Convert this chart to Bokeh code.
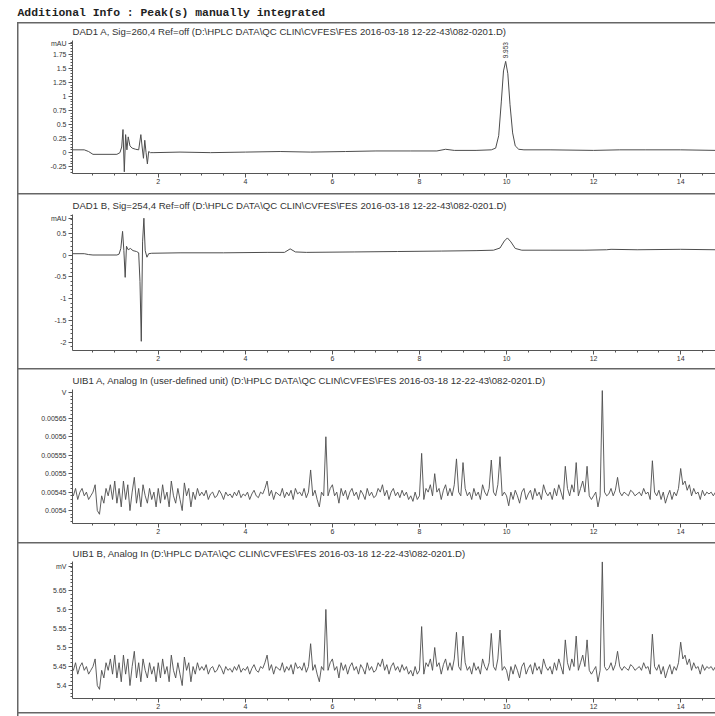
from bokeh.plotting import figure
from bokeh.layouts import column
from bokeh.models import FixedTicker, CustomJSTickFormatter, Label, Title, Range1d
from bokeh.embed import file_html
from bokeh.resources import INLINE

# ---------------- data ----------------
header_text = "Additional Info : Peak(s) manually integrated"
panel_titles = [
    "DAD1 A, Sig=260,4 Ref=off (D:\\HPLC DATA\\QC CLIN\\CVFES\\FES 2016-03-18 12-22-43\\082-0201.D)",
    "DAD1 B, Sig=254,4 Ref=off (D:\\HPLC DATA\\QC CLIN\\CVFES\\FES 2016-03-18 12-22-43\\082-0201.D)",
    "UIB1 A, Analog In (user-defined unit) (D:\\HPLC DATA\\QC CLIN\\CVFES\\FES 2016-03-18 12-22-43\\082-0201.D)",
    "UIB1 B, Analog In (D:\\HPLC DATA\\QC CLIN\\CVFES\\FES 2016-03-18 12-22-43\\082-0201.D)",
]
panel_units = ["mAU", "mAU", "V", "mV"]

x_ticks = [2, 4, 6, 8, 10, 12, 14]
x_minor = [0.5 * k for k in range(0, 30)]

dad_a_time = [0.0, 0.30, 0.40, 0.50, 1.05, 1.12, 1.16, 1.19, 1.22, 1.25,
              1.28, 1.31, 1.35, 1.40, 1.48, 1.55, 1.60, 1.63, 1.66, 1.69,
              1.72, 1.75, 1.78, 1.82, 1.90, 2.5, 3.2, 4.0, 4.8, 5.5,
              6.3, 7.0, 7.8, 8.4, 8.6, 8.8, 9.3, 9.65, 9.75, 9.82,
              9.88, 9.93, 9.98, 10.03, 10.08, 10.14, 10.20, 10.28, 10.40, 11.0,
              12.0, 12.6, 13.2, 14.0, 14.8]
dad_a_mau = [0.05, 0.05, 0.02, -0.03, -0.03, 0.0, 0.1, 0.41, -0.34, 0.32,
             0.05, 0.28, 0.12, 0.08, 0.06, 0.05, 0.32, 0.1, -0.1, 0.22,
             0.0, -0.2, 0.02, 0.0, 0.0, 0.01, 0.0, 0.01, 0.02, 0.01,
             0.02, 0.03, 0.03, 0.03, 0.06, 0.04, 0.04, 0.05, 0.08, 0.3,
             0.9, 1.45, 1.62, 1.4, 0.85, 0.35, 0.12, 0.06, 0.05, 0.05,
             0.04, 0.05, 0.05, 0.05, 0.04]
peak_label = "9.953"
peak_time = 9.98
peak_height = 1.62

dad_b_time = [0.0, 0.30, 0.40, 0.50, 1.05, 1.10, 1.14, 1.18, 1.21, 1.24,
              1.27, 1.31, 1.36, 1.42, 1.50, 1.55, 1.58, 1.61, 1.64, 1.67,
              1.70, 1.74, 1.78, 1.85, 2.5, 3.5, 4.5, 4.9, 5.03, 5.15,
              5.4, 6.5, 7.5, 8.5, 9.3, 9.7, 9.85, 9.95, 10.02, 10.1,
              10.2, 10.35, 11.0, 11.8, 12.3, 12.4, 13.0, 14.0, 14.8]
dad_b_mau = [0.03, 0.03, 0.01, 0.0, 0.0, 0.02, 0.15, 0.54, 0.1, -0.51,
             0.2, 0.12, 0.15, 0.1, 0.08, 0.05, -0.6, -1.97, 0.3, 0.84,
             0.1, -0.05, 0.03, 0.04, 0.05, 0.05, 0.06, 0.06, 0.14, 0.07,
             0.06, 0.07, 0.08, 0.09, 0.1, 0.11, 0.16, 0.32, 0.39, 0.3,
             0.15, 0.11, 0.11, 0.11, 0.12, 0.13, 0.12, 0.13, 0.12]

analog_step_min = 0.05
analog_mv = [
    5.45, 5.44, 5.46, 5.43, 5.45, 5.46, 5.44, 5.45, 5.43, 5.44, 5.45, 5.47, 5.40, 5.39, 5.44, 5.42, 5.46, 5.44, 5.47, 5.43,
    5.48, 5.42, 5.46, 5.41, 5.48, 5.43, 5.47, 5.40, 5.45, 5.49, 5.42, 5.46, 5.41, 5.47, 5.44, 5.42, 5.46, 5.43, 5.45, 5.41,
    5.46, 5.42, 5.47, 5.43, 5.45, 5.41, 5.48, 5.44, 5.42, 5.46, 5.43, 5.40, 5.475, 5.44, 5.46, 5.41, 5.45, 5.43, 5.46, 5.44,
    5.45, 5.44, 5.455, 5.43, 5.445, 5.45, 5.435, 5.44, 5.455, 5.445, 5.43, 5.45, 5.44, 5.445, 5.435, 5.45, 5.44, 5.455, 5.435, 5.445,
    5.44, 5.45, 5.43, 5.445, 5.455, 5.44, 5.435, 5.45, 5.445, 5.46, 5.48, 5.44, 5.455, 5.43, 5.45, 5.445, 5.44, 5.46, 5.435, 5.45,
    5.44, 5.455, 5.43, 5.46, 5.445, 5.45, 5.44, 5.46, 5.435, 5.45, 5.51, 5.44, 5.455, 5.43, 5.41, 5.45, 5.44, 5.60, 5.44, 5.46,
    5.47, 5.44, 5.45, 5.42, 5.46, 5.44, 5.455, 5.43, 5.45, 5.46, 5.44, 5.45, 5.43, 5.455, 5.445, 5.43, 5.46, 5.44, 5.45, 5.435,
    5.44, 5.46, 5.45, 5.47, 5.44, 5.455, 5.43, 5.45, 5.46, 5.44, 5.45, 5.435, 5.455, 5.44, 5.45, 5.43, 5.44, 5.425, 5.45, 5.43,
    5.44, 5.555, 5.43, 5.46, 5.45, 5.47, 5.44, 5.50, 5.45, 5.46, 5.43, 5.455, 5.47, 5.44, 5.46, 5.44, 5.47, 5.54, 5.45, 5.44,
    5.53, 5.46, 5.44, 5.45, 5.43, 5.46, 5.44, 5.45, 5.43, 5.47, 5.45, 5.44, 5.46, 5.537, 5.45, 5.44, 5.47, 5.546, 5.44, 5.45,
    5.44, 5.413, 5.45, 5.43, 5.455, 5.44, 5.42, 5.45, 5.46, 5.43, 5.445, 5.455, 5.43, 5.46, 5.44, 5.45, 5.43, 5.47, 5.45, 5.44,
    5.45, 5.43, 5.46, 5.44, 5.47, 5.45, 5.43, 5.52, 5.46, 5.44, 5.47, 5.45, 5.53, 5.44, 5.46, 5.48, 5.45, 5.52, 5.44, 5.43,
    5.44, 5.45, 5.41, 5.44, 5.725, 5.45, 5.44, 5.445, 5.46, 5.44, 5.455, 5.49, 5.45, 5.44, 5.45, 5.445, 5.44, 5.455, 5.45, 5.44,
    5.445, 5.45, 5.44, 5.46, 5.445, 5.45, 5.43, 5.535, 5.45, 5.44, 5.455, 5.43, 5.45, 5.42, 5.44, 5.455, 5.43, 5.45, 5.44, 5.46,
    5.514, 5.47, 5.48, 5.455, 5.47, 5.44, 5.46, 5.445, 5.45, 5.43, 5.455, 5.44, 5.45, 5.445, 5.45, 5.44, 5.45,
]
analog_time = [i * analog_step_min for i in range(len(analog_mv))]

y_ticks_a = [-0.25, 0, 0.25, 0.5, 0.75, 1, 1.25, 1.5, 1.75]
y_ticks_b = [-2, -1.5, -1, -0.5, 0, 0.5]
y_ticks_analog = [5.4, 5.45, 5.5, 5.55, 5.6, 5.65]

# ---------------- style ----------------
LINE = "#4d4d4d"
AXIS = "#555555"
TEXT = "#333333"
FONT = "Liberation Sans"
X_START, X_END = 0.03, 14.8

PLAIN_JS = "if (Math.abs(tick - upos) < 1e-6) { return unit; } return String(Math.round(tick*1000)/1000);"
VOLT_JS = "if (Math.abs(tick - upos) < 1e-6) { return unit; } return (tick/1000).toFixed(5).replace(/0+$/, '');"
x_fmt = CustomJSTickFormatter(code="return String(Math.round(tick*1000)/1000);")


def border_css(top_y, bottom_y=None):
    g = "linear-gradient(#666,#666)"
    parts = [f"{g} 17px {top_y}px / 1.5px calc(100% - {top_y}px) no-repeat",
             f"{g} 17px {top_y}px / calc(100% - 17px) 1.5px no-repeat"]
    if bottom_y is not None:
        parts.append(f"{g} 17px {bottom_y}px / calc(100% - 17px) 1.5px no-repeat")
    return {"background": ", ".join(parts) + ", #ffffff"}


def make_panel(height, mbt, mbb, y0, y1, title, title_standoff, unit, unit_pos,
               yticks, yminor, js, css):
    p = figure(width=715, height=height, title=None,
               x_range=Range1d(X_START, X_END), y_range=Range1d(y0, y1),
               output_backend="svg", toolbar_location=None,
               min_border_left=72, min_border_right=0,
               min_border_top=mbt, min_border_bottom=mbb)
    p.add_layout(Title(text=title, align="left", text_font=FONT, text_font_size="9.6px",
                       text_font_style="normal", text_color=TEXT,
                       standoff=title_standoff), "above")
    p.grid.visible = False
    p.outline_line_color = None
    p.background_fill_color = "white"
    p.border_fill_alpha = 0
    p.styles = css
    for ax in (p.xaxis[0], p.yaxis[0]):
        ax.axis_line_color = AXIS
        ax.axis_line_width = 1
        ax.major_tick_line_color = AXIS
        ax.minor_tick_line_color = AXIS
        ax.major_tick_in = 0
        ax.minor_tick_in = 0
        ax.major_tick_out = 4
        ax.minor_tick_out = 2
        ax.major_label_text_font = FONT
        ax.major_label_text_font_size = "7px"
        ax.major_label_text_color = TEXT
    p.xaxis.ticker = FixedTicker(ticks=x_ticks, minor_ticks=x_minor)
    p.xaxis.formatter = x_fmt
    p.xaxis.major_label_standoff = 1
    p.yaxis.ticker = FixedTicker(ticks=yticks + [unit_pos], minor_ticks=yminor)
    p.yaxis.formatter = CustomJSTickFormatter(args=dict(upos=unit_pos, unit=unit), code=js)
    p.yaxis.major_label_standoff = 2
    return p


p1 = make_panel(193, 40, 20, -0.37, 1.99, panel_titles[0], 8, panel_units[0], 1.94,
                y_ticks_a, [round(0.05 * k, 2) for k in range(-7, 40)], PLAIN_JS, border_css(22))
p1.add_layout(Title(text=header_text, align="left", text_font="Liberation Mono",
                    text_font_size="11.4px", text_font_style="bold", text_color="#222222",
                    offset=-55, standoff=2), "above")
p1.line(dad_a_time, dad_a_mau, line_color=LINE, line_width=1)
p1.add_layout(Label(x=peak_time, y=peak_height, y_offset=3, text=peak_label, angle=90,
                    angle_units="deg", text_align="left", text_baseline="middle",
                    text_font=FONT, text_font_size="6.5px", text_color=TEXT))

p2 = make_panel(175, 20, 18, -2.18, 0.925, panel_titles[1], 8, panel_units[1], 0.83,
                y_ticks_b, [round(0.1 * k, 1) for k in range(-22, 10)], PLAIN_JS, border_css(0))
p2.line(dad_b_time, dad_b_mau, line_color=LINE, line_width=1)

analog_minor = [round(5.36 + 0.01 * k, 2) for k in range(0, 38)]
p3 = make_panel(174, 20, 19, 5.365, 5.728, panel_titles[2], 8, panel_units[2], 5.72,
                y_ticks_analog, analog_minor, VOLT_JS, border_css(0))
p3.line(analog_time, analog_mv, line_color=LINE, line_width=0.9)

p4 = make_panel(174, 18, 18, 5.366, 5.726, panel_titles[3], 6, panel_units[3], 5.713,
                y_ticks_analog, analog_minor, PLAIN_JS, border_css(0, 170))
p4.line(analog_time, analog_mv, line_color=LINE, line_width=0.9)

layout = column(p1, p2, p3, p4)
open("out.html", "w").write(file_html(layout, INLINE))
